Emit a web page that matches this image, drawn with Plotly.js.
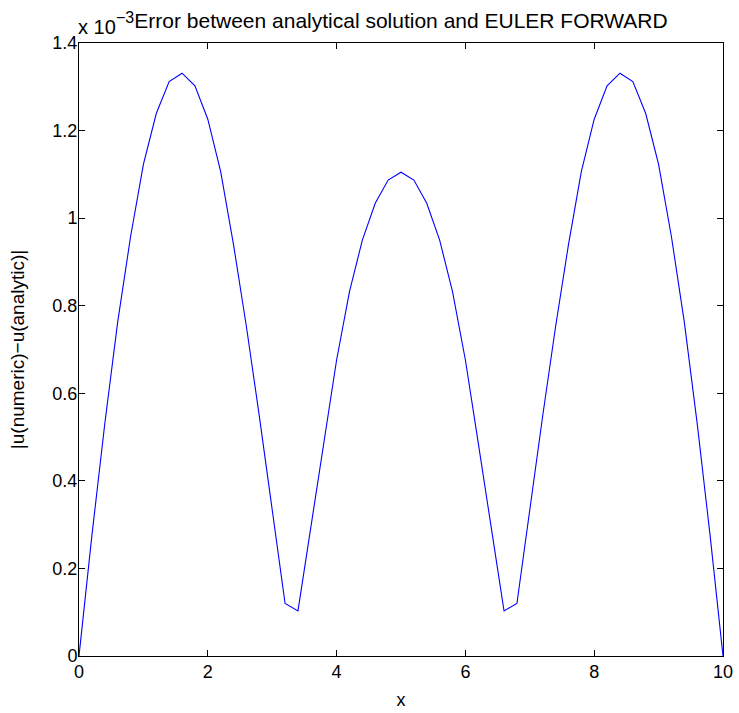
<!DOCTYPE html>
<html>
<head>
<meta charset="utf-8">
<script src="https://cdn.plot.ly/plotly-3.0.1.min.js"></script>
<style>html,body{margin:0;padding:0;background:#fff;}#chart{width:739px;height:713px;}</style>
</head>
<body>
<div id="chart"></div>
<script>
// x grid (step 0.2) and error values, in units of 1e-3
const xValues = [0,0.2,0.4,0.6,0.8,1.0,1.2,1.4,1.6,1.8,2.0,2.2,2.4,2.6,2.8,3.0,3.2,3.4,3.6,3.8,4.0,4.2,4.4,4.6,4.8,5.0,
                 5.2,5.4,5.6,5.8,6.0,6.2,6.4,6.6,6.8,7.0,7.2,7.4,7.6,7.8,8.0,8.2,8.4,8.6,8.8,9.0,9.2,9.4,9.6,9.8,10.0];
const errorE3 = [0,0.275,0.53,0.762,0.957,1.123,1.239,1.312,1.331,1.302,1.226,1.106,0.939,0.752,0.548,0.336,0.120,0.103,0.295,0.486,0.676,0.832,0.950,1.034,1.087,1.105,
                 1.087,1.034,0.950,0.832,0.676,0.486,0.295,0.103,0.120,0.336,0.548,0.752,0.939,1.106,1.226,1.302,1.331,1.312,1.239,1.123,0.957,0.762,0.53,0.275,0];
const xTicks = [0,2,4,6,8,10];
const yTicks = [0,0.2,0.4,0.6,0.8,1,1.2,1.4];

const FONT = 'Liberation Sans, Arial, sans-serif';

const trace = {
  x: xValues, y: errorE3, type: 'scatter', mode: 'lines',
  line: {color: '#0000ff', width: 1.1}, hoverinfo: 'none'
};

const axisCommon = {
  showline: true, linecolor: '#000', linewidth: 1, mirror: 'ticks',
  ticks: 'inside', ticklen: 6, tickcolor: '#000', tickwidth: 1,
  showgrid: false, zeroline: false,
  tickfont: {family: FONT, size: 18, color: '#000'}
};

const layout = {
  width: 739, height: 713,
  margin: {l: 79, r: 16, t: 43, b: 57},
  paper_bgcolor: '#fff', plot_bgcolor: '#fff',
  showlegend: false,
  title: {text: 'Error between analytical solution and EULER FORWARD',
          font: {family: FONT, size: 21, color: '#000'},
          x: 0.5, xref: 'paper', xanchor: 'center', y: 1 - 21/713, yref: 'container', yanchor: 'middle'},
  xaxis: Object.assign({}, axisCommon, {
    range: [0, 10], tickvals: xTicks, ticktext: xTicks.map(String),
    ticklabelstandoff: -1,
    title: {text: 'x', font: {family: FONT, size: 18, color: '#000'}, standoff: 12}
  }),
  yaxis: Object.assign({}, axisCommon, {
    range: [0, 1.4], tickvals: yTicks, ticktext: yTicks.map(String),
    ticklabelstandoff: -3,
    title: {text: '|u(numeric)\u2212u(analytic)|', font: {family: FONT, size: 19, color: '#000'}, standoff: 22}
  }),
  annotations: [{
    text: 'x 10', xref: 'paper', yref: 'paper',
    x: -3 / 644, y: (656 - 27) / 613, xanchor: 'left', yanchor: 'middle',
    showarrow: false, font: {family: FONT, size: 20, color: '#000'}
  }, {
    text: '\u22123', xref: 'paper', yref: 'paper',
    x: (114 - 79) / 644, y: (656 - 18) / 613, xanchor: 'left', yanchor: 'middle',
    showarrow: false, font: {family: FONT, size: 16, color: '#000'}
  }]
};

Plotly.newPlot('chart', [trace], layout, {staticPlot: true, displayModeBar: false});
</script>
</body>
</html>
